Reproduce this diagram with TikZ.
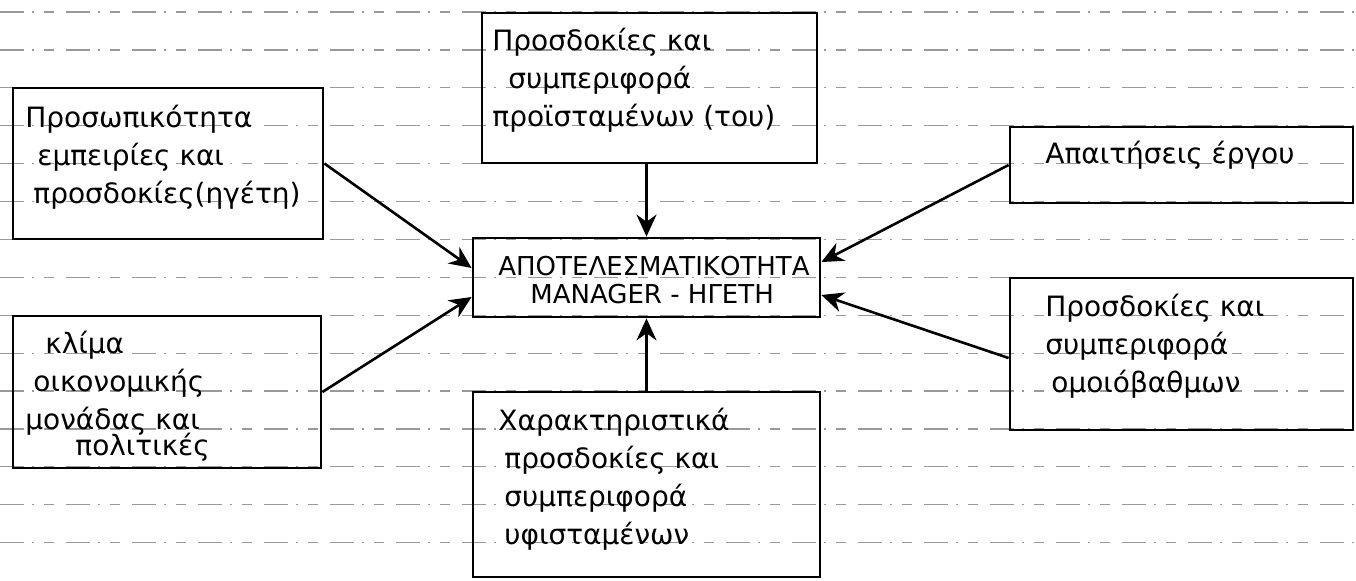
\documentclass[tikz,border=0pt]{standalone}
\usepackage{fontspec}
\setmainfont{DejaVu Sans}
\usetikzlibrary{arrows.meta, calc}

\newcommand{\lnstrut}{\rule{0pt}{15pt}}

\begin{document}
\begin{tikzpicture}[x=0.5pt, y=-0.5pt, >={Stealth[length=11pt, width=10pt]},
        box/.style={draw, line width=1.4pt, inner sep=0pt},
        txt/.style={anchor=north west, inner sep=0pt, align=left,
            font=\fontsize{14}{19}\selectfont},
        arr/.style={->, line width=1.3pt}]

        % page size
        \useasboundingbox[fill=white] (0,0) rectangle (1356,580);

        % ruled lines of the paper
        \foreach \k in {0,...,14}
            \draw[black!40, line width=0.6pt, dash pattern=on 12pt off 4pt on 1pt off 5pt on 5pt off 6pt]
                (0,{12+37.9*\k}) -- (1356,{12+37.9*\k});

        % boxes
        \node[box, minimum width=167.5pt, minimum height=75pt] (sup) at (649.5,88) {};
        \node[box, minimum width=155pt, minimum height=75.5pt] (pers) at (168,163.5) {};
        \node[box, minimum width=154pt, minimum height=76pt] (clim) at (167,392) {};
        \node[box, minimum width=173.5pt, minimum height=39.5pt] (eff) at (646.5,277.5) {};
        \node[box, minimum width=173.5pt, minimum height=92.5pt] (sub) at (646.5,484.5) {};
        \node[box, minimum width=171.5pt, minimum height=38pt] (task) at (1181.5,165) {};
        \node[box, minimum width=171.5pt, minimum height=76pt] (peer) at (1181.5,354) {};

        % texts in the boxes
        \node[txt] (suptxt) at (492,20) {\lnstrut Προσδοκίες και\\\hspace{8pt}συμπεριφορά\\προϊσταμένων (του)};
        \node[txt] (perstxt) at (25,97) {\lnstrut Προσωπικότητα\\\hspace{6pt}εμπειρίες και\\\hspace{4pt}προσδοκίες(ηγέτη)};
        \node[txt] (climtxt) at (25,323) {\lnstrut\hspace{10pt}κλίμα\\\hspace{4pt}οικονομικής\\μονάδας και\\[-6pt]\hspace{25pt}πολιτικές};
        \node[txt, font=\fontsize{13}{14}\selectfont] (efftxt) at (498,245) {\lnstrut ΑΠΟΤΕΛΕΣΜΑΤΙΚΟΤΗΤΑ\\\hspace{16pt}MANAGER - ΗΓΕΤΗ};
        \node[txt] (subtxt) at (498,400) {\lnstrut Χαρακτηριστικά\\\hspace{3pt}προσδοκίες και\\\hspace{3pt}συμπεριφορά\\\hspace{3pt}υφισταμένων};
        \node[txt] (tasktxt) at (1045,133) {\lnstrut Απαιτήσεις έργου};
        \node[txt] (peertxt) at (1045,286) {\lnstrut Προσδοκίες και\\συμπεριφορά\\\hspace{3pt}ομοιόβαθμων};

        % arrows into the centre box
        \draw[arr] (eff.north |- sup.south) -- (eff.north);
        \draw[arr] (sub.north) -- (eff.south);
        \draw[arr] (pers.east) -- ([yshift=4.75pt]eff.west);
        \draw[arr] (clim.east) -- ([yshift=-9.75pt]eff.west);
        \draw[arr] (task.west) -- ([yshift=7.75pt]eff.east);
        \draw[arr] ([yshift=-2pt]peer.west) -- ([yshift=-8.75pt]eff.east);

    \end{tikzpicture}
\end{document}
